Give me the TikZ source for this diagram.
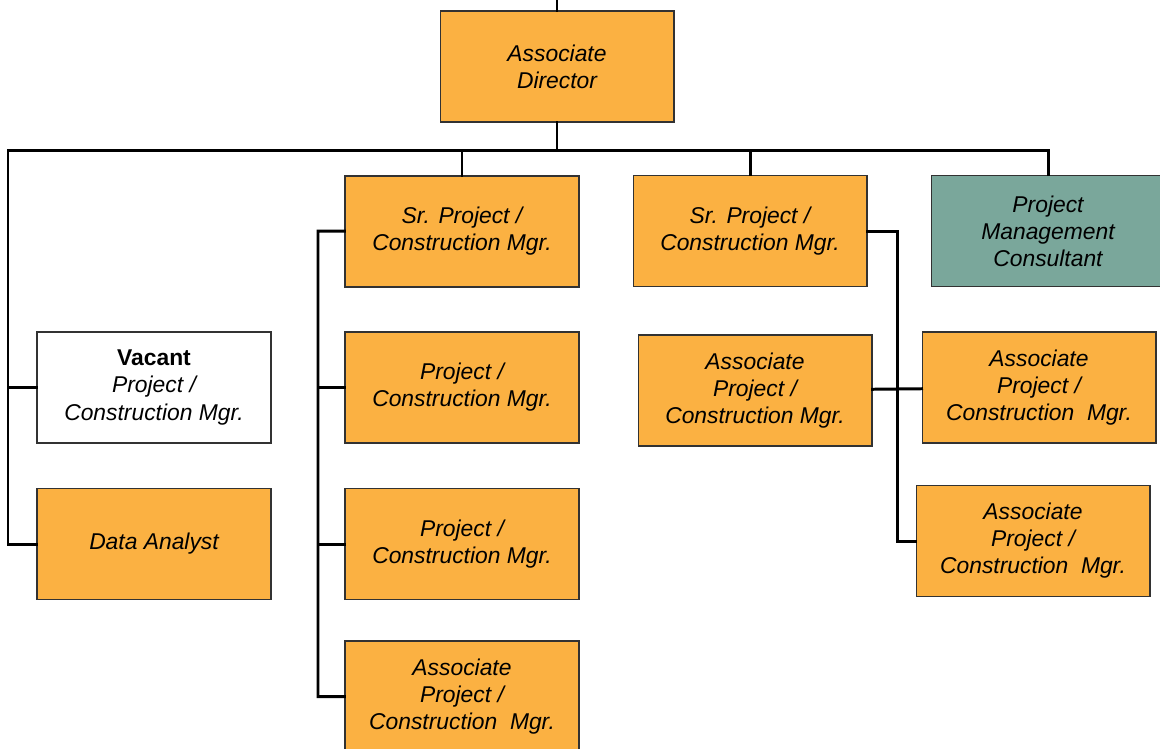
\documentclass[tikz,border=0pt]{standalone}
\usepackage{fontspec}
\setmainfont{Liberation Sans}
\usetikzlibrary{positioning}
\definecolor{boxorange}{RGB}{251,177,66}
\definecolor{boxteal}{RGB}{122,167,155}
\definecolor{boxline}{RGB}{50,50,50}

\begin{document}
\begin{tikzpicture}[
    % GLOBAL CFG
    x=0.02cm, y=-0.02cm,
    font=\fontsize{13}{15.4}\selectfont\itshape,
    % Styles
    post/.style={% For a position box
        rectangle,
        draw=boxline,
        line width=0.6pt,
        fill=boxorange,
        minimum width=4.68cm,
        minimum height=2.22cm,
        inner sep=2pt,
        align=center,
    },
    vacant/.style={% For an open position
        post,
        fill=white,
    },
    consult/.style={% For outside help
        post,
        fill=boxteal,
    },
    link/.style={% Reporting lines
        line width=1.7pt,
        line cap=rect,
    },
    ]

    \useasboundingbox (0,0) rectangle (1160,748);

    % Draw top
    \node [post] (dir) at (557,66.5) {Associate\\Director};

    % Draw second row
    \node [post] (sr1) at (462,231.5) {Sr. Project /\\Construction Mgr.};
    \node [post] (sr2) at (750,231) {Sr. Project /\\Construction Mgr.};
    \node [consult] (pmc) at (1048,231) {Project\\Management\\Consultant};

    % Draw left column
    \node [vacant] (vac) at (154,387.5) {{\upshape\bfseries Vacant}\\Project /\\Construction Mgr.};
    \node [post] (da) at (154,544) {Data Analyst};

    % Draw staff of sr1
    \node [post] (pcm1) at (462,387.5) {Project /\\Construction Mgr.};
    \node [post] (pcm2) at (462,544) {Project /\\Construction Mgr.};
    \node [post] (apl) at (462,696.5) {Associate\\Project /\\Construction\ \ Mgr.};

    % Draw staff of sr2
    \node [post] (apm) at (755,390.5) {Associate\\Project /\\Construction Mgr.};
    \node [post] (apr1) at (1039,387.5) {Associate\\Project /\\Construction\ \ Mgr.};
    \node [post] (apr2) at (1033,541) {Associate\\Project /\\Construction\ \ Mgr.};

    % Connect all
    \coordinate (top) at (557,0);
    \coordinate (bus) at (557,150);
    \coordinate (lt) at (8,150);
    \coordinate (l1) at (318,231);
    \coordinate (r1) at (897,231);

    \draw [link] (top) -- (dir);
    \draw [link] (dir) -- (bus);
    \draw [link] (lt) -| (pmc);
    \draw [link] (bus -| sr1) -- (sr1);
    \draw [link] (bus -| sr2) -- (sr2);

    % Left column
    \draw [link] (lt) |- (da);
    \draw [link] (lt |- vac) -- (vac);

    % Under sr1
    \draw [link] (sr1) -- (l1) |- (apl);
    \draw [link] (l1 |- pcm1) -- (pcm1);
    \draw [link] (l1 |- pcm2) -- (pcm2);

    % Under sr2
    \draw [link] (sr2) -- (r1) |- (apr2);
    \draw [link] (apm) -- (apr1);

\end{tikzpicture}
\end{document}
